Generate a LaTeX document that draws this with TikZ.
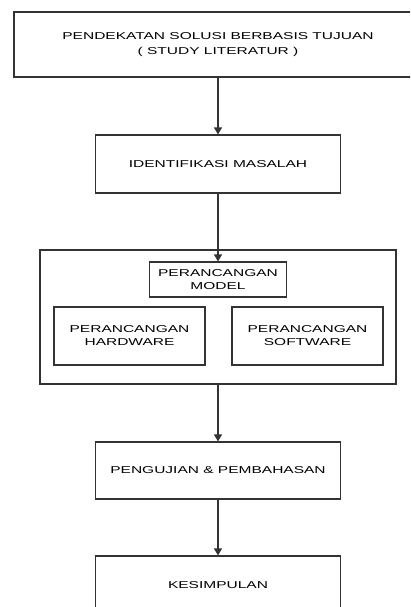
\documentclass[tikz,border=0pt]{standalone}
\usepackage{fontspec}
\setmainfont{Liberation Sans}[FakeStretch=1.55]
\usetikzlibrary{arrows.meta}

\begin{document}
\begin{tikzpicture}[x=1pt,y=-1pt,
	box/.style={draw=black!80,line width=1.1pt,inner sep=0pt,align=center,text=black,font=\fontsize{10}{13}\selectfont},
	flow/.style={draw=black!80,line width=1.1pt,-{Triangle[width=8pt,length=7pt]}}]
	\clip (0,0) rectangle (410,607);
	\node[box,minimum width=408,minimum height=65,font=\fontsize{10}{15.5}\selectfont] (studi) at (218,44.5) {PENDEKATAN SOLUSI BERBASIS TUJUAN\\( STUDY LITERATUR )};
	\node[box,minimum width=245,minimum height=58] (masalah) at (218,164) {IDENTIFIKASI MASALAH};
	\node[box,minimum width=356,minimum height=134] (rancang) at (218,317) {};
	\node[box,minimum width=137,minimum height=35] (model) at (218,279.5) {PERANCANGAN\\MODEL};
	\node[box,minimum width=151,minimum height=58] (hardware) at (129.5,336) {PERANCANGAN\\HARDWARE};
	\node[box,minimum width=151,minimum height=58] (software) at (307.5,336) {PERANCANGAN\\SOFTWARE};
	\node[box,minimum width=245,minimum height=57] (uji) at (218,470.5) {PENGUJIAN \& PEMBAHASAN};
	\node[box,minimum width=245,minimum height=58] (simpul) at (218,585) {KESIMPULAN};
	\draw[flow] (studi) -- (masalah);
	\draw[flow] (masalah) -- (model);
	\draw[flow] (rancang) -- (uji);
	\draw[flow] (uji) -- (simpul);
\end{tikzpicture}
\end{document}
